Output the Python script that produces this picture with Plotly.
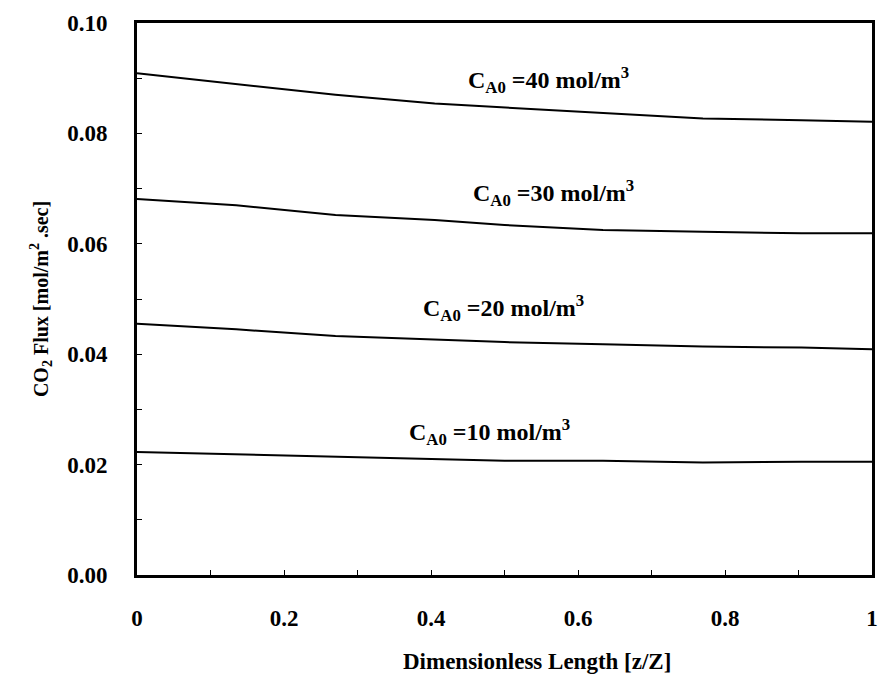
import plotly.graph_objects as go

z = [0.0, 0.135, 0.27, 0.405, 0.5, 0.634, 0.77, 0.904, 1.0]
flux_40 = [0.0909, 0.0890, 0.0870, 0.0854, 0.0847, 0.0836, 0.0827, 0.0824, 0.0821]
flux_30 = [0.0681, 0.0670, 0.0652, 0.0643, 0.0634, 0.0625, 0.0622, 0.0619, 0.0619]
flux_20 = [0.0455, 0.0445, 0.0433, 0.0426, 0.0422, 0.0418, 0.0414, 0.0412, 0.0409]
flux_10 = [0.0223, 0.0219, 0.0214, 0.0210, 0.0207, 0.0207, 0.0204, 0.0205, 0.0205]

series = [flux_40, flux_30, flux_20, flux_10]
labels = ["C<sub>A0</sub> =40 mol/m<sup>3</sup>", "C<sub>A0</sub> =30 mol/m<sup>3</sup>",
          "C<sub>A0</sub> =20 mol/m<sup>3</sup>", "C<sub>A0</sub> =10 mol/m<sup>3</sup>"]
label_x = [0.56, 0.566, 0.499, 0.48]
label_y = [0.0897, 0.0692, 0.0484, 0.0259]

x_ticks = [0, 0.2, 0.4, 0.6, 0.8, 1]
x_ticktext = ["0", "0.2", "0.4", "0.6", "0.8", "1"]
y_ticks = [0.00, 0.02, 0.04, 0.06, 0.08, 0.10]
y_ticktext = ["0.00", "0.02", "0.04", "0.06", "0.08", "0.10"]

FONT = "Liberation Serif, Times New Roman, serif"

fig = go.Figure()
for s in series:
    fig.add_trace(go.Scatter(x=z, y=s, mode="lines", line=dict(color="black", width=2),
                             showlegend=False, hoverinfo="skip"))

for t, lx, ly in zip(labels, label_x, label_y):
    fig.add_annotation(x=lx, y=ly, xref="x", yref="y", text=f"<b>{t}</b>", showarrow=False,
                       font=dict(family=FONT, size=24, color="black"))

fig.add_annotation(x=0.544, y=-0.157, xref="paper", yref="paper", yanchor="middle",
                   text="<b>Dimensionless Length [z/Z]</b>", showarrow=False,
                   font=dict(family=FONT, size=23, color="black"))

fig.update_layout(
    width=885, height=681,
    margin=dict(l=137, r=7, t=23, b=106),
    paper_bgcolor="white", plot_bgcolor="white",
    font=dict(family=FONT, size=23, color="black", weight="bold"),
    xaxis=dict(range=[0, 1], tickvals=x_ticks, ticktext=x_ticktext,
               ticks="inside", ticklen=5, tickwidth=1, tickcolor="black",
               minor=dict(dtick=0.1, ticks="inside", ticklen=5, tickcolor="black"),
               showline=True, linewidth=3, linecolor="black", mirror=True,
               showgrid=False, zeroline=False, ticklabelstandoff=20,
               tickfont=dict(family=FONT, size=23, weight="bold")),
    yaxis=dict(range=[0, 0.10], tickvals=y_ticks, ticktext=y_ticktext,
               ticks="inside", ticklen=5, tickwidth=1, tickcolor="black",
               minor=dict(dtick=0.01, ticks="inside", ticklen=5, tickcolor="black"),
               showline=True, linewidth=3, linecolor="black", mirror=True,
               showgrid=False, zeroline=False, ticklabelstandoff=22,
               tickfont=dict(family=FONT, size=23, weight="bold"),
               title=dict(text="<b>CO<sub>2</sub> Flux [mol/m<sup>2</sup> .sec]</b>",
                          font=dict(family=FONT, size=20), standoff=14)),
)

fig.write_html("out.html")
